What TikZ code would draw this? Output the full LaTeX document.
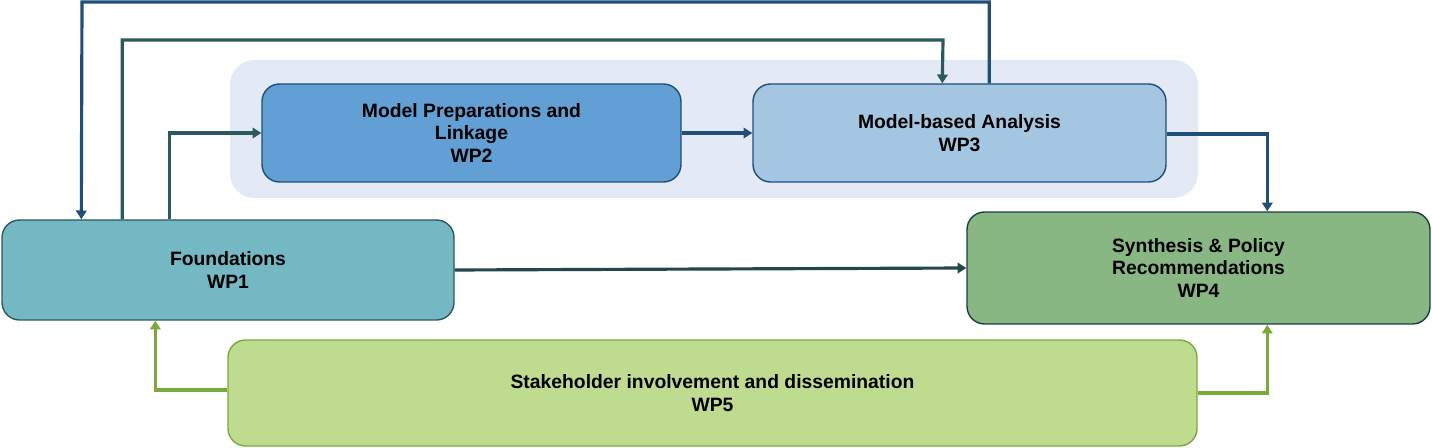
\documentclass[tikz,border=0pt]{standalone}
\usepackage{fontspec}
\setmainfont{Liberation Sans}
\usetikzlibrary{calc,arrows.meta}
\definecolor{panel}{HTML}{E4EAF5}
\definecolor{blueline}{HTML}{1F4E79}
\definecolor{tealline}{HTML}{2B5A5E}
\definecolor{greenline}{HTML}{7AAA3C}
\tikzset{
  wp/.style={draw=#1, rounded corners=10pt, line width=0.8pt, align=center,
    font=\bfseries\fontsize{11}{13}\selectfont, inner sep=0pt},
  flow/.style={-{Triangle[length=5pt,width=6pt]}, line width=1.8pt}
}
\begin{document}
\begin{tikzpicture}[x=0.02cm,y=-0.02cm]
  \useasboundingbox (0,0) rectangle (1432,448);
  % panel behind WP2 and WP3
  \fill[panel, rounded corners=14pt] (230,60) rectangle (1198,198);
  \node[wp=blueline, fill={rgb,255:red,97;green,159;blue,212}, minimum width=419*0.02cm, minimum height=98*0.02cm] (wp2) at (471.5,133) {Model Preparations and\\Linkage\\WP2};
  \node[wp=blueline, fill={rgb,255:red,164;green,198;blue,224}, minimum width=413*0.02cm, minimum height=98*0.02cm] (wp3) at (959.5,133) {Model-based Analysis\\WP3};
  \node[wp=tealline, fill={rgb,255:red,116;green,184;blue,196}, minimum width=452*0.02cm, minimum height=100*0.02cm] (wp1) at (228,270) {Foundations\\WP1};
  \node[wp=tealline!70!black, fill={rgb,255:red,136;green,183;blue,132}, minimum width=463*0.02cm, minimum height=112*0.02cm] (wp4) at (1198.5,268) {Synthesis \& Policy\\Recommendations\\WP4};
  \node[wp=greenline, fill={rgb,255:red,191;green,219;blue,144}, minimum width=969*0.02cm, minimum height=106*0.02cm] (wp5) at (712.5,393) {Stakeholder involvement and dissemination\\WP5};
  % connectors
  \draw[flow, blueline] ($(wp3.north west)+(237,0)$) |- (82,2) -- ($(wp1.north west)+(80,0)$);
  \draw[flow, tealline] ($(wp1.north west)+(121,0)$) |- (943,40) -- ($(wp3.north west)+(190,0)$);
  \draw[flow, tealline] ($(wp1.north west)+(168,0)$) |- (wp2.west);
  \draw[flow, blueline] (wp2.east) -- (wp3.west);
  \draw[flow, blueline] ($(wp3.east)+(0,1)$) -| ($(wp4.north west)+(301,0)$);
  \draw[flow, tealline!80!black] (wp1.east) -- (wp4.west);
  \draw[flow, greenline] ($(wp5.west)+(0,-3)$) -| ($(wp1.south west)+(154,0)$);
  \draw[flow, greenline] (wp5.east) -| ($(wp4.south west)+(301,0)$);
\end{tikzpicture}
\end{document}
